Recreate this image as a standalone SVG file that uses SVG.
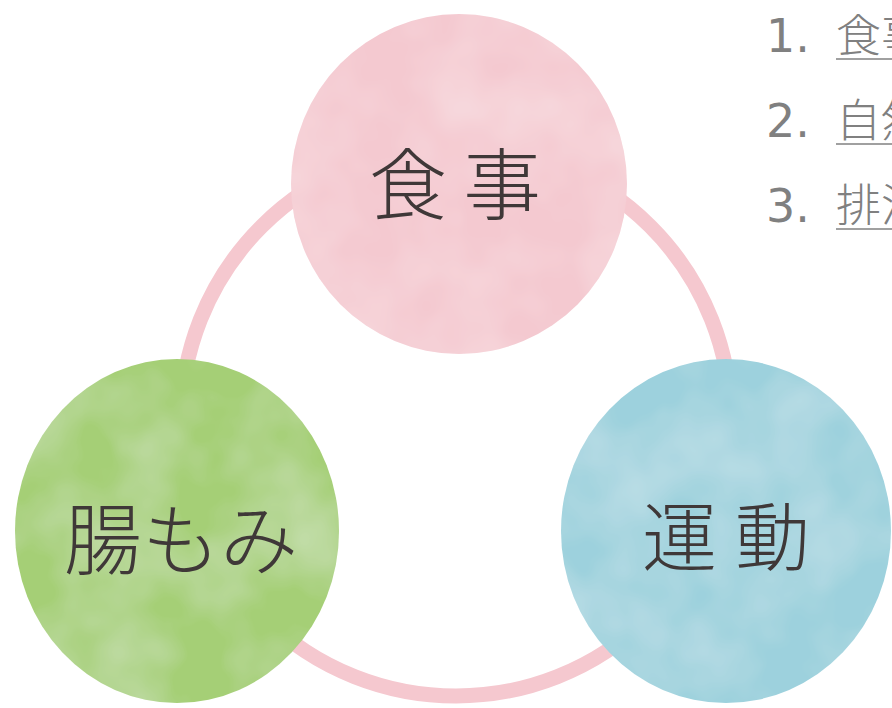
<svg xmlns="http://www.w3.org/2000/svg" width="892" height="708" viewBox="0 0 892 708">
  <style>
    .label { font-family: "Noto Sans CJK JP", "Noto Sans", sans-serif; font-weight: 300; fill: #3f3838; text-anchor: middle; }
    .num { font-family: "DejaVu Sans", "Noto Sans", sans-serif; font-size: 46px; fill: #808080; }
    .item { font-family: "Noto Sans CJK JP", sans-serif; font-weight: 300; font-size: 45px; fill: #808080; }
    .uline { stroke: #808080; stroke-width: 1.5; }
    .ring { fill: none; stroke: #f5c8cf; stroke-width: 15; }
  </style>
  <defs>
    <filter id="wc" x="-5%" y="-5%" width="110%" height="110%">
      <feTurbulence type="fractalNoise" baseFrequency="0.012" numOctaves="3" seed="7" result="n"/>
      <feColorMatrix in="n" type="matrix" values="0 0 0 0 1  0 0 0 0 1  0 0 0 0 1  0 0 0 0.45 -0.15" result="w"/>
      <feComposite in="w" in2="SourceGraphic" operator="in" result="wm"/>
      <feMerge><feMergeNode in="SourceGraphic"/><feMergeNode in="wm"/></feMerge>
    </filter>
  </defs>
  <rect width="892" height="708" fill="#ffffff"/>

  <g id="connectors">
    <circle class="ring" cx="456" cy="421" r="275"/>
  </g>

  <g id="node-shokuji">
    <ellipse cx="459" cy="184" rx="168" ry="170" fill="#f4c9d0" filter="url(#wc)"/>
    <text class="label" x="463" y="214" font-size="78" letter-spacing="16">食事</text>
  </g>

  <g id="node-chomomi">
    <ellipse cx="177" cy="531" rx="162" ry="172" fill="#a5cf76" filter="url(#wc)"/>
    <text class="label" x="181" y="569" font-size="78">腸もみ</text>
  </g>

  <g id="node-undo">
    <ellipse cx="726" cy="531" rx="165" ry="172" fill="#9dd1dd" filter="url(#wc)"/>
    <text class="label" x="735" y="565" font-size="75" letter-spacing="18">運動</text>
  </g>

  <g id="list">
    <text class="num" x="766" y="52">1.</text>
    <text class="item" x="836" y="52">食事</text>
    <line class="uline" x1="836" y1="59" x2="892" y2="59"/>
    <text class="num" x="766" y="137">2.</text>
    <text class="item" x="836" y="137">自然</text>
    <line class="uline" x1="836" y1="144" x2="892" y2="144"/>
    <text class="num" x="766" y="222">3.</text>
    <text class="item" x="836" y="222">排泄</text>
    <line class="uline" x1="836" y1="229" x2="892" y2="229"/>
  </g>
</svg>
